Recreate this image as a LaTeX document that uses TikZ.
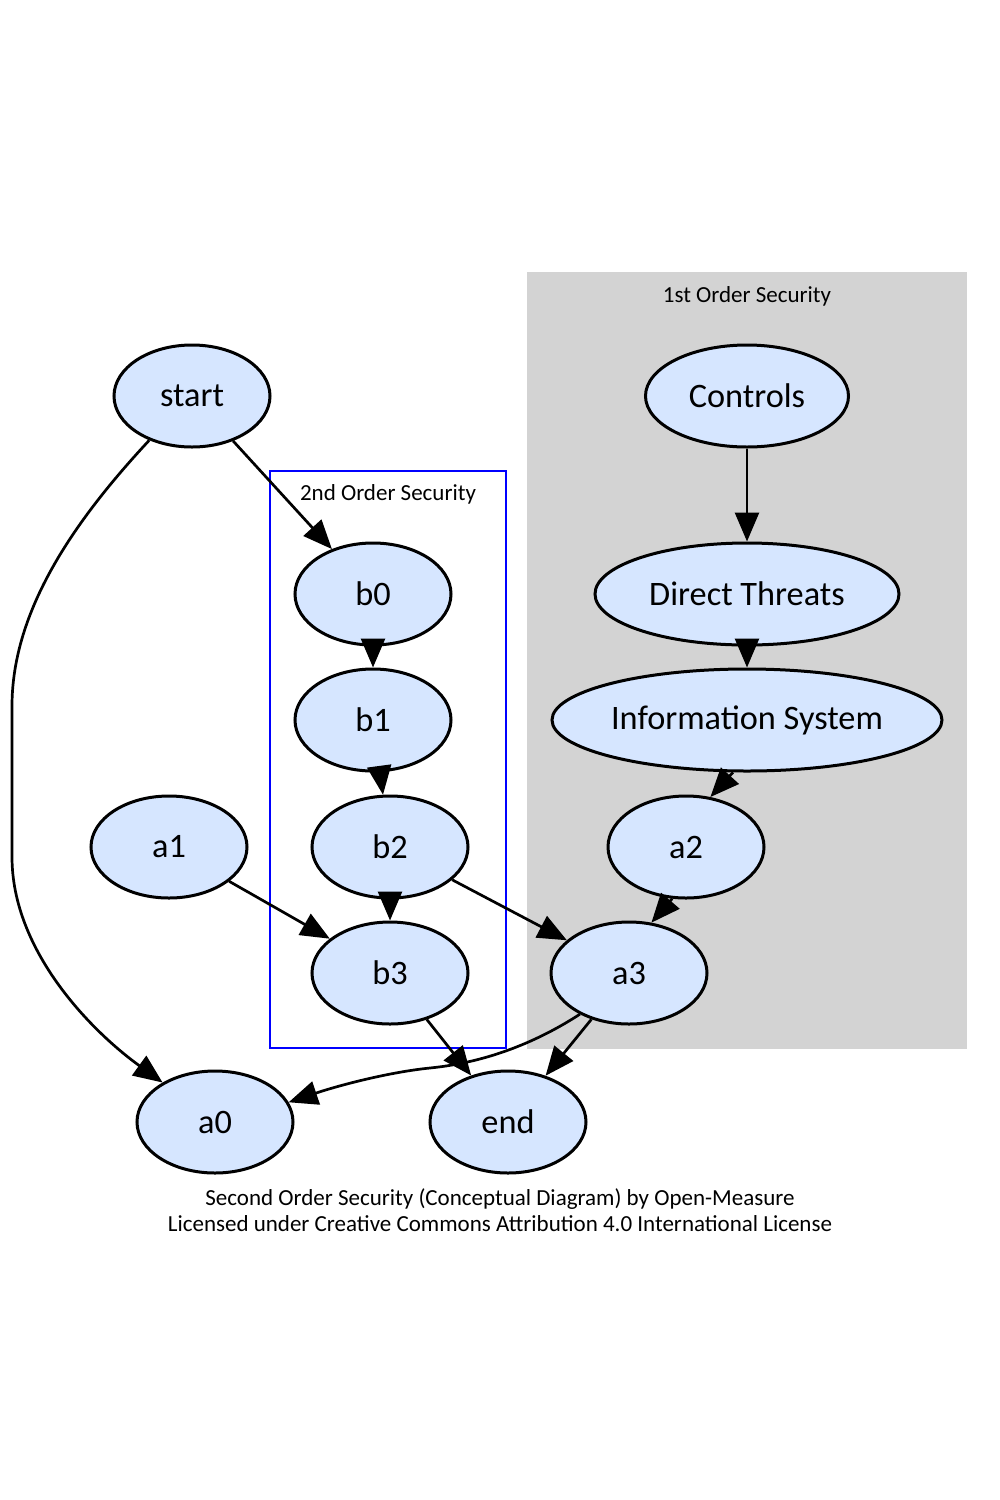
\documentclass[tikz,border=0pt]{standalone}
\usepackage{fontspec}
\setmainfont{Carlito}
\usetikzlibrary{shapes.geometric}
\usetikzlibrary{arrows.meta}
\definecolor{nodeFill}{RGB}{214,230,255}
\definecolor{clusterGray}{RGB}{211,211,211}

\begin{document}
\begin{tikzpicture}[x=1pt,y=-1pt]

          \tikzstyle{normalNode} = [ellipse, draw, line width=3pt, fill=nodeFill, minimum width=156pt, minimum height=102pt, inner sep=0pt, font=\fontsize{34.3}{40}\selectfont];
          \tikzstyle{normalEdge} = [line width=2.7pt, -{Triangle[length=29pt,width=24pt]}];
          \tikzstyle{clusterLabel} = [font=\fontsize{23}{26.5}\selectfont];

          \useasboundingbox (0,0) rectangle (1000,1500);

          % clusters
          \fill[clusterGray] (527,272) rectangle (967,1049);
          \node[clusterLabel] (firstLabel) at (747,296) {1st Order Security};
          \draw[blue, line width=2.8pt] (270,471) rectangle (506,1048);
          \node[clusterLabel] (secondLabel) at (388,494) {2nd Order Security};

          \node[normalNode] (start) at (192,396) {start};
          \node[normalNode, minimum width=203pt] (controls) at (747,396) {Controls};
          \node[normalNode] (b0) at (373,594) {b0};
          \node[normalNode, minimum width=304pt] (threats) at (747,594) {Direct Threats};
          \node[normalNode] (b1) at (373,720) {b1};
          \node[normalNode, minimum width=390pt] (infosys) at (747,720) {Information System};
          \node[normalNode] (a1) at (169,847) {a1};
          \node[normalNode] (b2) at (390,847) {b2};
          \node[normalNode] (a2) at (686,847) {a2};
          \node[normalNode] (b3) at (390,973) {b3};
          \node[normalNode] (a3) at (629,973) {a3};
          \node[normalNode] (a0) at (215,1122) {a0};
          \node[normalNode] (end) at (508,1122) {end};

          \node[clusterLabel, align=center] (caption) at (500,1210) {Second Order Security (Conceptual Diagram) by Open-Measure\\Licensed under Creative Commons Attribution 4.0 International License};

          \draw[normalEdge] (start.226) .. controls (75,520) and (12,610) .. (12,706) -- (12,857) .. controls (12,950) and (90,1030) .. (a0.143);
          \draw[normalEdge] (start) -- (b0);
          \draw[normalEdge] (controls) -- (threats);
          \draw[normalEdge] (threats) -- (infosys);
          \draw[normalEdge] (infosys.255) -- (a2.64);
          \draw[normalEdge] (b0) -- (b1);
          \draw[normalEdge] (b1) -- (b2);
          \draw[normalEdge] (b2) -- (b3);
          \draw[normalEdge] (a1) -- (b3);
          \draw[normalEdge] (b2) -- (a3);
          \draw[normalEdge] (a2.255) -- (a3.66);
          \draw[normalEdge] (b3) -- (end);
          \draw[normalEdge] (a3) -- (end);
          \draw[normalEdge] (a3.220) .. controls (540,1040) and (490,1062) .. (430,1068) .. controls (390,1072) and (340,1085) .. (a0.15);
        \end{tikzpicture}
\end{document}
